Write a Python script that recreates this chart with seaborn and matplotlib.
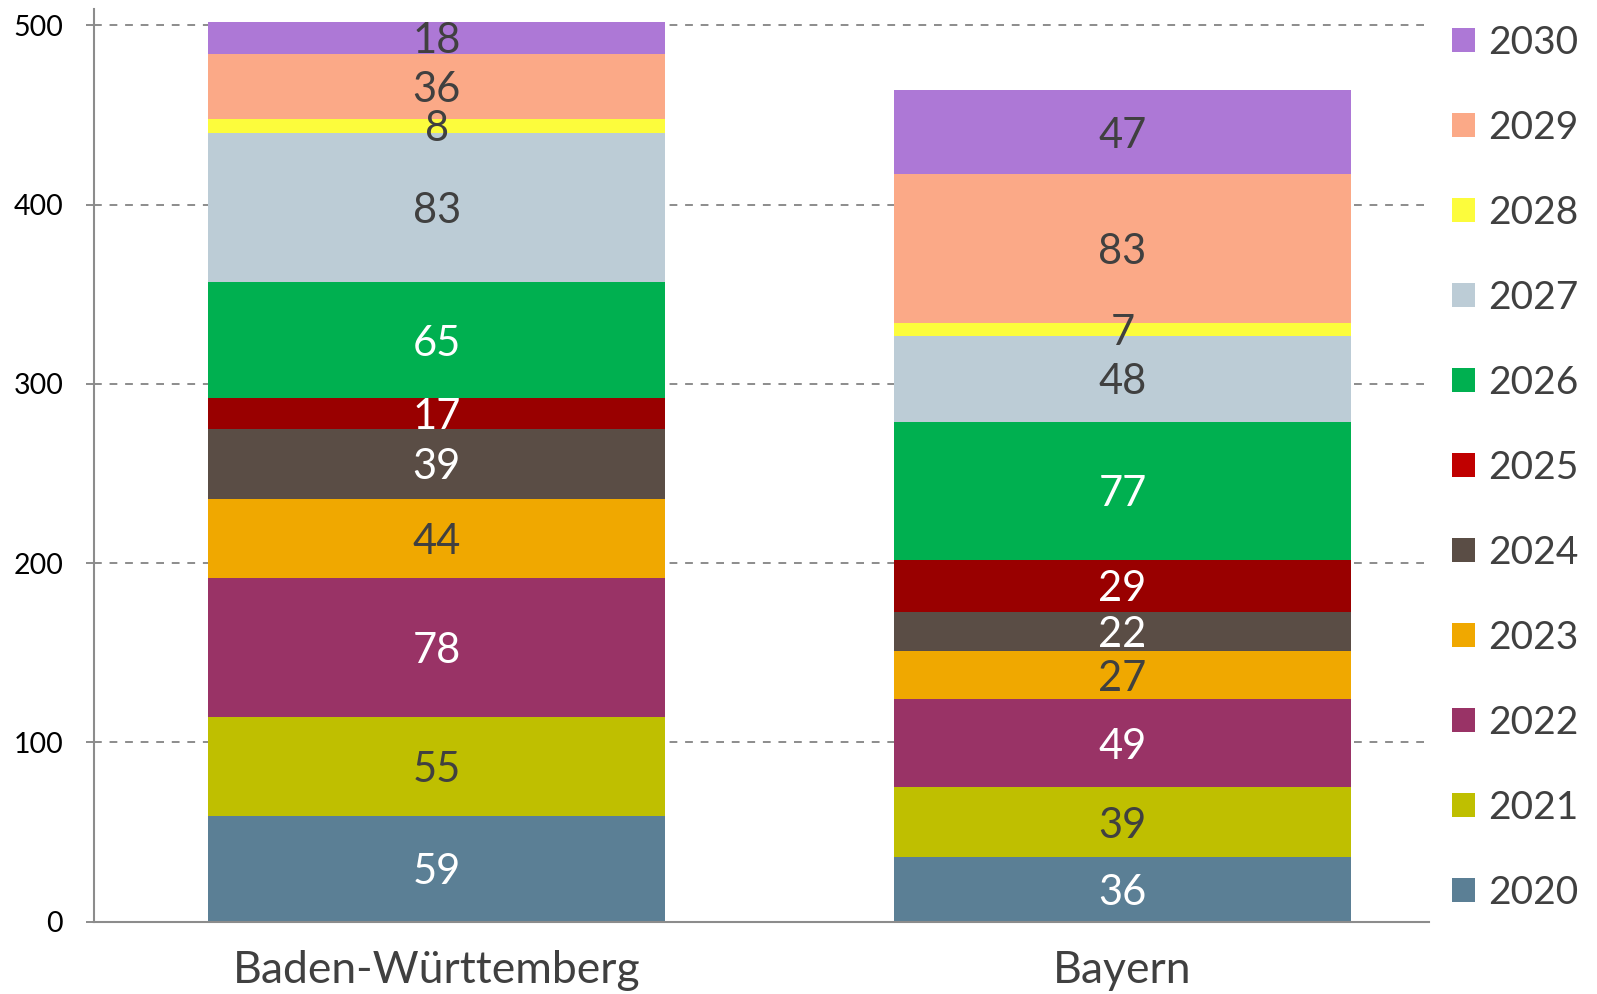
import matplotlib
matplotlib.use("Agg")
import matplotlib.pyplot as plt
from matplotlib.patches import Patch
import seaborn as sns
import pandas as pd
import numpy as np

regions = ["Baden-Württemberg", "Bayern"]
years = ["2020", "2021", "2022", "2023", "2024", "2025", "2026", "2027", "2028", "2029", "2030"]
bw_values = [59, 55, 78, 44, 39, 17, 65, 83, 8, 36, 18]
by_values = [36, 39, 49, 27, 22, 29, 77, 48, 7, 83, 47]
yticks = [0, 100, 200, 300, 400, 500]

bar_colors = ["#5B7F95", "#BFBF00", "#993366", "#F0A800", "#5A4D45", "#990000",
              "#00B050", "#BCCCD6", "#FCFC3C", "#FBA987", "#AD78D6"]
legend_colors = ["#5B7F95", "#BFBF00", "#993366", "#F0A800", "#5A4D45", "#C00000",
                 "#00B050", "#BCCCD6", "#FCFC3C", "#FBA987", "#AD78D6"]
label_colors = ["white", "#404040", "white", "#404040", "white", "white",
                "white", "#404040", "#404040", "#404040", "#404040"]

sns.set_theme(style="white")
plt.rcParams["font.family"] = ["Lato", "DejaVu Sans"]

fig = plt.figure(figsize=(15.97, 9.94), dpi=100)
ax = fig.add_axes([0.0587, 0.0727, 0.8361, 0.918])

values = np.array([bw_values, by_values])  # shape (regions, years)
bottoms = np.zeros(len(regions))
for j, year in enumerate(years):
    df = pd.DataFrame({"region": regions, "value": values[:, j]})
    sns.barplot(data=df, x="region", y="value", order=regions, color=bar_colors[j],
                saturation=1, width=0.667, bottom=bottoms.copy(), ax=ax,
                linewidth=0, edgecolor="none")
    for i in range(len(regions)):
        v = values[i, j]
        ax.text(i, bottoms[i] + v / 2, str(v), ha="center", va="center_baseline",
                fontsize=30, color=label_colors[j])
    bottoms = bottoms + values[:, j]

ax.set_xlim(-0.5, 1.447)
ax.set_ylim(0, 509)
ax.set_yticks(yticks)
ax.set_yticklabels([str(t) for t in yticks])
ax.set_xlabel("")
ax.set_ylabel("")

ax.set_axisbelow(True)
ax.yaxis.grid(True, linestyle=(0, (4, 4)), color="#8c8c8c", linewidth=1.4)
ax.xaxis.grid(False)

for s in ["top", "right"]:
    ax.spines[s].set_visible(False)
for s in ["left", "bottom"]:
    ax.spines[s].set_color("#8c8c8c")
    ax.spines[s].set_linewidth(1.5)

ax.tick_params(axis="y", which="major", left=True, length=6, width=1.4, color="#8c8c8c",
               labelsize=20.5, labelcolor="black", pad=16)
ax.tick_params(axis="x", which="major", bottom=False, length=0, labelsize=32,
               labelcolor="#404040", pad=20)

handles = [Patch(facecolor=c, edgecolor="none") for c in legend_colors][::-1]
labels = years[::-1]
fig.legend(handles, labels, loc="upper left", bbox_to_anchor=(0.909, 0.975),
           frameon=False, fontsize=28, labelcolor="#404040",
           handlelength=0.6, handleheight=0.6, handletextpad=0.35,
           labelspacing=1.26, borderpad=0, borderaxespad=0)

fig.savefig("out.png", dpi=100)
